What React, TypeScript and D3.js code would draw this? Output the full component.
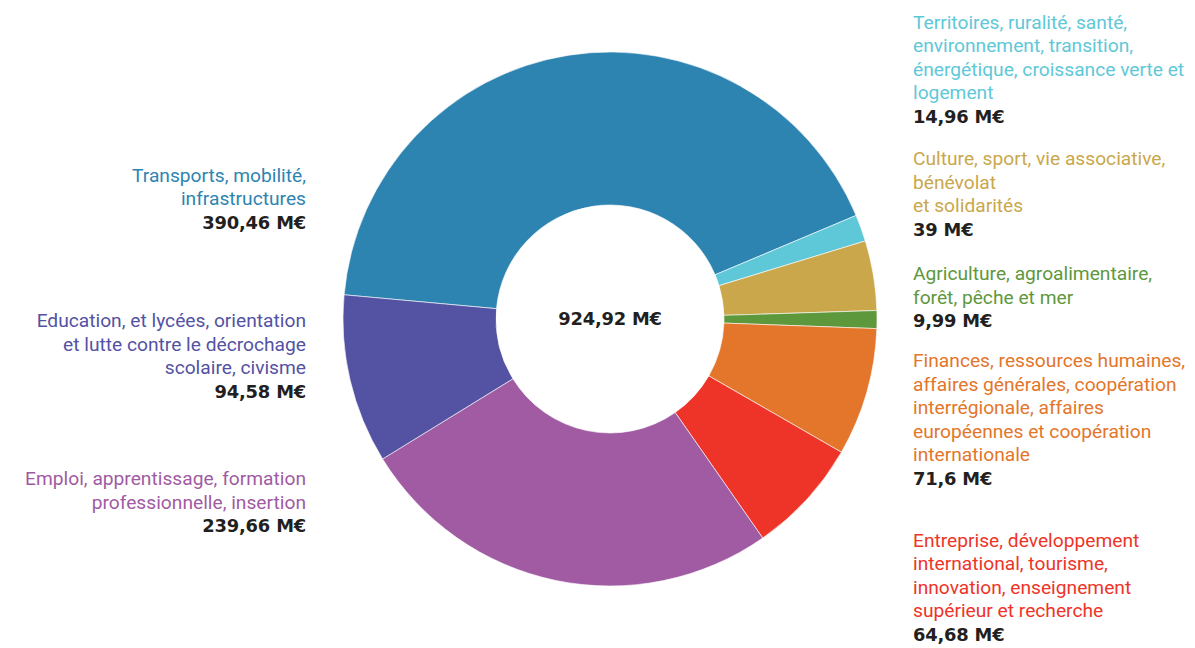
import React from "react";
import * as d3 from "d3";

// ---- data ----
const categories: string[] = [
  "Transports",
  "Territoires",
  "Culture",
  "Agriculture",
  "Finances",
  "Entreprise",
  "Emploi",
  "Education",
];
const values: number[] = [390.46, 14.96, 39, 9.99, 71.6, 64.68, 239.66, 94.58];
const valueLabels: string[] = [
  "390,46 M€",
  "14,96 M€",
  "39 M€",
  "9,99 M€",
  "71,6 M€",
  "64,68 M€",
  "239,66 M€",
  "94,58 M€",
];
const labelLines: string[][] = [
  ["Transports, mobilité,", "infrastructures"],
  [
    "Territoires, ruralité, santé,",
    "environnement, transition,",
    "énergétique, croissance verte et",
    "logement",
  ],
  ["Culture, sport, vie associative,", "bénévolat", "et solidarités"],
  ["Agriculture, agroalimentaire,", "forêt, pêche et mer"],
  [
    "Finances, ressources humaines,",
    "affaires générales, coopération",
    "interrégionale, affaires",
    "européennes et coopération",
    "internationale",
  ],
  [
    "Entreprise, développement",
    "international, tourisme,",
    "innovation, enseignement",
    "supérieur et recherche",
  ],
  ["Emploi, apprentissage, formation", "professionnelle, insertion"],
  [
    "Education, et lycées, orientation",
    "et lutte contre le décrochage",
    "scolaire, civisme",
  ],
];
const totalLabel = "924,92 M€";

// ---- layout / styles ----
const colors: string[] = [
  "#2e84b1",
  "#5ec8d8",
  "#caa74b",
  "#5e983c",
  "#e3762a",
  "#ee3428",
  "#a05ba3",
  "#5352a3",
];
// side: 1 = right (left-aligned), -1 = left (right-aligned); y = first baseline
const labelLayout = [
  { side: -1, y: 181.5 },
  { side: 1, y: 28.5 },
  { side: 1, y: 165 },
  { side: 1, y: 280 },
  { side: 1, y: 367 },
  { side: 1, y: 546.5 },
  { side: -1, y: 485 },
  { side: -1, y: 327 },
];

const W = 1195;
const H = 648;
const CX = 610;
const CY = 319;
const R_OUT = 267;
const R_IN = 114;
const START = (-84.8 * Math.PI) / 180;
const LINE = 23.6;
const RIGHT_X = 913;
const LEFT_X = 306;
const FONT = "Roboto, 'Liberation Sans', sans-serif";
const BOLD_FONT = "'DejaVu Sans', sans-serif";
const TEXT_DARK = "#231f20";
const FS = 19.2;
const BFS = 17.9;

export default function App() {
  const pie = d3
    .pie<number>()
    .sort(null)
    .value((d) => d)
    .startAngle(START)
    .endAngle(START + 2 * Math.PI);
  const arcs = pie(values);
  const arc = d3
    .arc<d3.PieArcDatum<number>>()
    .innerRadius(R_IN)
    .outerRadius(R_OUT);

  return (
    <svg
      width={W}
      height={H}
      style={{ position: "absolute", left: 0, top: 0, background: "#fff" }}
    >
      <g transform={`translate(${CX},${CY})`}>
        {arcs.map((a, i) => (
          <path
            key={categories[i]}
            d={arc(a) || ""}
            fill={colors[i]}
            stroke="#ffffff"
            strokeWidth={0.6}
          />
        ))}
        <text
          x={0}
          y={6}
          textAnchor="middle"
          fontFamily={BOLD_FONT}
          fontWeight={700}
          fontSize={BFS}
          letterSpacing={-0.2}
          fill={TEXT_DARK}
        >
          {totalLabel}
        </text>
      </g>
      {categories.map((c, i) => {
        const lay = labelLayout[i];
        const x = lay.side > 0 ? RIGHT_X : LEFT_X;
        const anchor = lay.side > 0 ? "start" : "end";
        const lines = labelLines[i];
        return (
          <g key={c}>
            {lines.map((ln, j) => (
              <text
                key={j}
                x={x}
                y={lay.y + j * LINE}
                textAnchor={anchor}
                fontFamily={FONT}
                fontSize={FS}
                fill={colors[i]}
              >
                {ln}
              </text>
            ))}
            <text
              x={x}
              y={lay.y + lines.length * LINE}
              textAnchor={anchor}
              fontFamily={BOLD_FONT}
              fontWeight={700}
              fontSize={BFS}
              letterSpacing={-0.2}
              fill={TEXT_DARK}
            >
              {valueLabels[i]}
            </text>
          </g>
        );
      })}
    </svg>
  );
}
